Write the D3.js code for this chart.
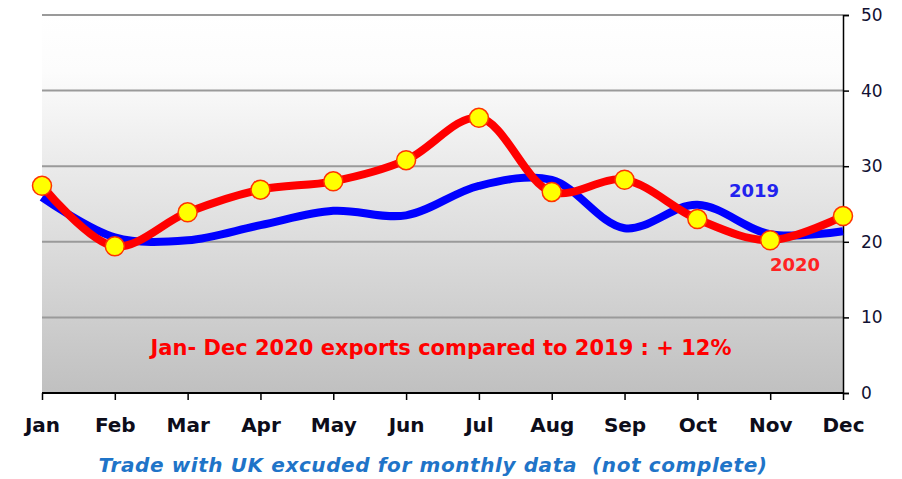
<!DOCTYPE html>
<html>
<head>
<meta charset="utf-8">
<script src="https://cdn.jsdelivr.net/npm/d3@7"></script>
<style>
body{margin:0;background:#fff;}
svg{display:block;}
</style>
</head>
<body>
<script>
// monthly exports, 2019 vs 2020
var months = ["Jan","Feb","Mar","Apr","May","Jun","Jul","Aug","Sep","Oct","Nov","Dec"];
var values2019 = [25.9,20.6,20.2,22.2,24.1,23.5,27.4,28.2,21.8,24.9,21.0,21.4];
var values2020 = [27.4,19.4,23.9,26.9,28.0,30.8,36.4,26.6,28.2,23.0,20.2,23.4];
var yTicks = [0,10,20,30,40,50];

var width = 902, height = 479;
var plotLeft = 42, plotRight = 843, plotTop = 15, plotBottom = 393;

var svg = d3.select("body").append("svg").attr("width",width).attr("height",height);

var x = d3.scalePoint().domain(months).range([plotLeft,plotRight]);
var y = d3.scaleLinear().domain([0,50]).range([plotBottom,plotTop]);

var grad = svg.append("defs").append("linearGradient").attr("id","bg")
	.attr("x1",0).attr("y1",0).attr("x2",0).attr("y2",1);
grad.append("stop").attr("offset","0%").attr("stop-color","#ffffff");
grad.append("stop").attr("offset","15%").attr("stop-color","#fcfcfc");
grad.append("stop").attr("offset","100%").attr("stop-color","#c0c0c0");

svg.append("rect").attr("x",plotLeft).attr("y",plotTop).attr("width",plotRight-plotLeft).attr("height",plotBottom-plotTop).attr("fill","url(#bg)");

// gridlines
svg.selectAll(".grid").data(yTicks.slice(1)).enter().append("line").attr("class","grid")
	.attr("x1",plotLeft).attr("x2",plotRight).attr("y1",function(d){return y(d);}).attr("y2",function(d){return y(d);})
	.attr("stroke","#9a9a9a").attr("stroke-width",2);

// right axis
var yAxis = svg.append("g").attr("transform","translate("+plotRight+",0)")
	.call(d3.axisRight(y).tickValues(yTicks).tickSize(6).tickPadding(12));
yAxis.select(".domain").attr("stroke","#000").attr("stroke-width",1.5);
yAxis.selectAll(".tick line").attr("stroke","#000").attr("stroke-width",1.5);
yAxis.selectAll("text").attr("font-family","'DejaVu Sans', sans-serif").attr("font-size","17px").attr("fill","#111133");

// bottom axis
var xAxis = svg.append("g").attr("transform","translate(0,"+plotBottom+")")
	.call(d3.axisBottom(x).tickSize(7).tickPadding(18));
xAxis.select(".domain").attr("stroke","#000").attr("stroke-width",2).attr("d","M"+plotLeft+",0H"+plotRight);
xAxis.selectAll(".tick line").attr("stroke","#000").attr("stroke-width",1.5);
xAxis.selectAll("text").attr("font-family","'DejaVu Sans', sans-serif").attr("font-weight","bold")
	.attr("font-size","20px").attr("fill","#0d0d1a");

var line = d3.line().x(function(d,i){return x(months[i]);}).y(function(d){return y(d);}).curve(d3.curveCatmullRom.alpha(0.5));

svg.append("path").datum(values2019).attr("d",line).attr("fill","none").attr("stroke","#0000ff").attr("stroke-width",8);
svg.append("path").datum(values2020).attr("d",line).attr("fill","none").attr("stroke","#ff0000").attr("stroke-width",8);

svg.selectAll(".dot").data(values2020).enter().append("circle").attr("class","dot")
	.attr("cx",function(d,i){return x(months[i]);}).attr("cy",function(d){return y(d);})
	.attr("r",9.5).attr("fill","#ffff00").attr("stroke","#ff3300").attr("stroke-width",1.5);

var font = "'DejaVu Sans', sans-serif";
svg.append("text").attr("x",754).attr("y",197).attr("text-anchor","middle").attr("font-family",font).attr("font-weight","bold")
	.attr("font-size","18px").attr("fill","#2222ee").text("2019");
svg.append("text").attr("x",795).attr("y",271).attr("text-anchor","middle").attr("font-family",font).attr("font-weight","bold")
	.attr("font-size","18px").attr("fill","#ff2222").text("2020");
svg.append("text").attr("x",441).attr("y",355).attr("text-anchor","middle").attr("font-family",font).attr("font-weight","bold")
	.attr("font-size","21px").attr("fill","#ff0000").text("Jan- Dec 2020 exports compared to 2019 : + 12%");
svg.append("text").attr("x",433).attr("y",472).attr("text-anchor","middle").attr("font-family",font).attr("font-weight","bold")
	.attr("font-style","italic").attr("font-size","20px").attr("letter-spacing","0.6px").attr("fill","#1f74c8").attr("xml:space","preserve").text("Trade with UK excuded for monthly data  (not complete)");
</script>
</body>
</html>
